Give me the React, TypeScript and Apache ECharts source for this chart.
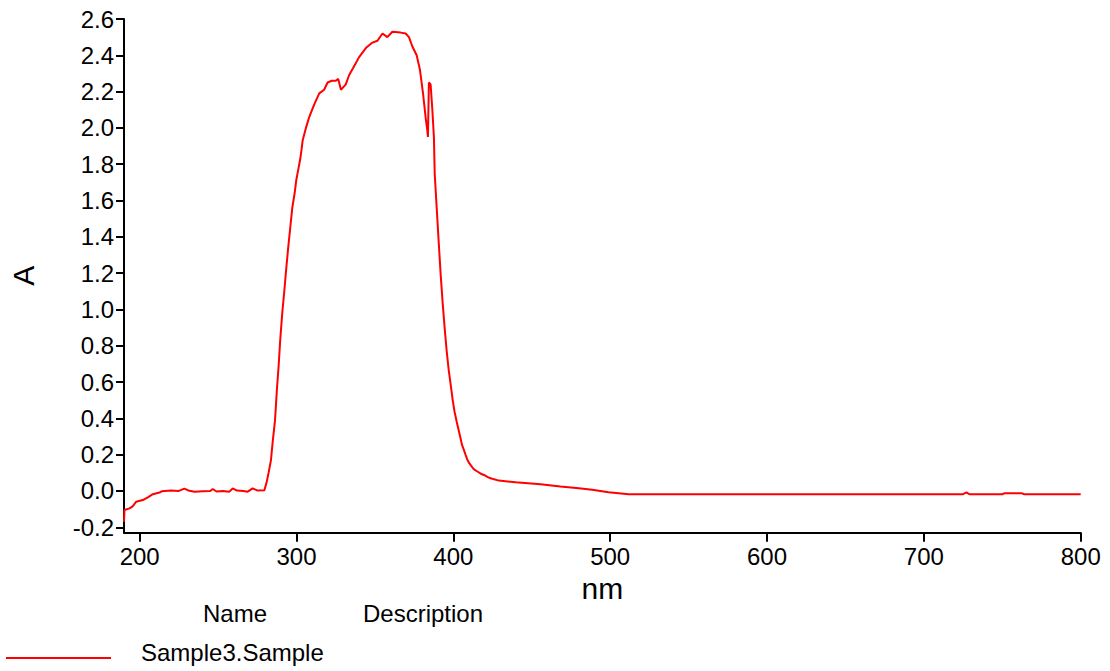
import React, { useEffect, useRef } from "react";
import * as echarts from "echarts";

const wavelengths: number[] = [
  190, 190.3, 193.5, 195.5, 197.8, 202, 205.2, 208.4, 212.6, 214, 220, 225, 228.5, 231, 235, 240, 245,
  246.6, 249, 253, 257, 259.3, 262, 266, 268.9, 272, 275.2, 279.5, 281.0, 282.2, 283.7, 284.8, 286.3,
  287.5, 288.6, 289.6, 290.9, 292.2, 293.5, 294.7, 296.0, 297.3, 298.8, 299.8, 301.1, 302.4, 303.2,
  303.9, 306, 308.1, 311.3, 314.5, 317.6, 319.8, 322.5, 325.1, 326.6, 328.3, 331.4, 333.5, 336.7,
  339.9, 344.2, 348.4, 351.6, 354.8, 357.9, 361.1, 366.4, 369.6, 371.7, 373.8, 376.6, 378.7, 380.8,
  382.3, 383.4, 383.8, 384.4, 385.5, 386.6, 387.6, 388.1, 389.4, 390.7, 391.9, 393.2, 394.5, 395.7,
  397.0, 398.3, 399.6, 400.8, 402.1, 403.2, 404.4, 405.5, 406.7, 407.8, 408.8, 410.1, 411.4, 412.5,
  413.7, 415.3, 417.5, 419.5, 422, 423.7, 429, 439.7, 455.6, 468.3, 480, 488.5, 499, 511.8, 600, 700,
  725, 727.2, 729, 750, 751.6, 762.2, 764, 800,
];

const absorbance: number[] = [
  -0.17, -0.105, -0.096, -0.085, -0.059, -0.05, -0.035, -0.018, -0.009, -0.002, 0.002, 0.0, 0.013,
  0.003, -0.004, -0.002, 0.0, 0.011, -0.003, 0.0, -0.005, 0.014, 0.002, 0.0, -0.004, 0.014, 0.002,
  0.004, 0.05, 0.1, 0.17, 0.27, 0.39, 0.56, 0.69, 0.83, 0.98, 1.1, 1.23, 1.34, 1.45, 1.56, 1.64,
  1.71, 1.77, 1.83, 1.88, 1.93, 2.0, 2.06, 2.13, 2.19, 2.21, 2.25, 2.26, 2.26, 2.27, 2.21, 2.24,
  2.29, 2.34, 2.39, 2.44, 2.47, 2.48, 2.52, 2.5, 2.53, 2.525, 2.52, 2.5, 2.45, 2.4, 2.32, 2.18,
  2.06, 1.985, 1.95, 2.25, 2.24, 2.1, 1.95, 1.75, 1.556, 1.365, 1.193, 1.033, 0.893, 0.775, 0.669,
  0.586, 0.499, 0.435, 0.383, 0.341, 0.297, 0.254, 0.226, 0.199, 0.175, 0.153, 0.138, 0.125, 0.116,
  0.107, 0.095, 0.088, 0.076, 0.07, 0.057, 0.048, 0.037, 0.024, 0.015, 0.006, -0.007, -0.018,
  -0.018, -0.018, -0.018, -0.008, -0.018, -0.018, -0.012, -0.012, -0.018, -0.018,
];

const xTicks: number[] = [200, 300, 400, 500, 600, 700, 800];
const yTicks: number[] = [-0.2, 0, 0.2, 0.4, 0.6, 0.8, 1.0, 1.2, 1.4, 1.6, 1.8, 2.0, 2.2, 2.4, 2.6];

const seriesName = "Sample3.Sample";
const legendHeaders: string[] = ["Name", "Description"];
const FONT = "'Liberation Sans', Arial, sans-serif";

export default function App() {
  const ref = useRef<HTMLDivElement>(null);
  useEffect(() => {
    if (!ref.current) return;
    const chart = echarts.init(ref.current, null, { renderer: "svg" });
    const data = wavelengths.map((w, i) => [w, absorbance[i]]);
    chart.setOption({
      animation: false,
      backgroundColor: "#ffffff",
      textStyle: { fontFamily: FONT, color: "#000" },
      grid: { left: 122.7, right: 29.3, top: 19, bottom: 138.3, containLabel: false },
      xAxis: {
        type: "value",
        min: 190,
        max: 800,
        name: "nm",
        nameLocation: "middle",
        nameGap: 36,
        nameTextStyle: { fontSize: 30, color: "#000", fontFamily: FONT },
        axisLine: { show: true, onZero: false, lineStyle: { color: "#000", width: 2 } },
        axisTick: { show: true, inside: false, customValues: xTicks, length: 9, lineStyle: { color: "#000", width: 2 } },
        axisLabel: {
          customValues: xTicks,
          fontSize: 24,
          color: "#000",
          margin: 12,
          fontFamily: FONT,
          formatter: (v: number) => String(v),
        },
        splitLine: { show: false },
      },
      yAxis: {
        type: "value",
        min: -0.23,
        max: 2.6,
        name: "A",
        nameLocation: "middle",
        nameRotate: 90,
        nameGap: 86,
        nameTextStyle: { fontSize: 30, color: "#000", fontFamily: FONT },
        axisLine: { show: true, onZero: false, lineStyle: { color: "#000", width: 2 } },
        axisTick: { show: true, inside: false, customValues: yTicks, length: 8, lineStyle: { color: "#000", width: 2 } },
        axisLabel: {
          customValues: yTicks,
          fontSize: 24,
          color: "#000",
          margin: 10,
          fontFamily: FONT,
          formatter: (v: number) => v.toFixed(1),
        },
        splitLine: { show: false },
      },
      legend: { show: false },
      graphic: [
        {
          type: "text",
          left: 203,
          top: 601,
          style: { text: legendHeaders[0], fontSize: 24, fill: "#000", fontFamily: FONT },
        },
        {
          type: "text",
          left: 363,
          top: 601,
          style: { text: legendHeaders[1], fontSize: 24, fill: "#000", fontFamily: FONT },
        },
        {
          type: "line",
          shape: { x1: 6, y1: 658, x2: 111, y2: 658 },
          style: { stroke: "#ff0000", lineWidth: 2 },
        },
        {
          type: "text",
          left: 141,
          top: 640,
          style: { text: seriesName, fontSize: 24, fill: "#000", fontFamily: FONT },
        },
      ],
      series: [
        {
          name: seriesName,
          type: "line",
          data,
          showSymbol: false,
          symbol: "none",
          clip: true,
          color: "#ff0000",
          lineStyle: { color: "#ff0000", width: 2 },
        },
      ],
    });
    return () => chart.dispose();
  }, []);
  return (
    <div
      ref={ref}
      style={{ position: "fixed", left: 0, top: 0, width: 1110, height: 671, background: "#fff" }}
    />
  );
}
